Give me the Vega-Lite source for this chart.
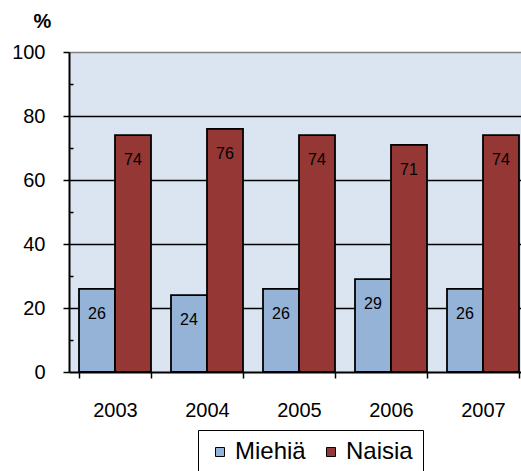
{
  "$schema": "https://vega.github.io/schema/vega-lite/v6.json",
  "autosize": "none",
  "padding": {"left": 69, "top": 52, "right": 0, "bottom": 99},
  "width": 452,
  "height": 320,
  "background": "white",
  "config": {
    "font": "Liberation Sans",
    "view": {"fill": "#dbe5f1", "stroke": null}
  },
  "data": {
    "values": [
      {"vuosi": "2003", "sukupuoli": "Miehiä", "osuus": 26},
      {"vuosi": "2003", "sukupuoli": "Naisia", "osuus": 74},
      {"vuosi": "2004", "sukupuoli": "Miehiä", "osuus": 24},
      {"vuosi": "2004", "sukupuoli": "Naisia", "osuus": 76},
      {"vuosi": "2005", "sukupuoli": "Miehiä", "osuus": 26},
      {"vuosi": "2005", "sukupuoli": "Naisia", "osuus": 74},
      {"vuosi": "2006", "sukupuoli": "Miehiä", "osuus": 29},
      {"vuosi": "2006", "sukupuoli": "Naisia", "osuus": 71},
      {"vuosi": "2007", "sukupuoli": "Miehiä", "osuus": 26},
      {"vuosi": "2007", "sukupuoli": "Naisia", "osuus": 74}
    ]
  },
  "encoding": {
    "x": {
      "field": "vuosi",
      "type": "ordinal",
      "scale": {"range": [0, 460], "paddingInner": 0.2174, "paddingOuter": 0.1087},
      "axis": {
        "title": null,
        "labelAngle": 0,
        "labelFontSize": 20,
        "labelColor": "black",
        "labelPadding": 22,
        "domainColor": "black",
        "domainWidth": 2,
        "tickColor": "black",
        "tickWidth": 1.5,
        "tickSize": 6,
        "tickBand": "extent"
      }
    },
    "xOffset": {
      "field": "sukupuoli",
      "type": "nominal",
      "sort": ["Miehiä", "Naisia"],
      "scale": {"paddingInner": 0, "paddingOuter": 0}
    },
    "y": {
      "field": "osuus",
      "type": "quantitative",
      "scale": {"domain": [0, 100], "nice": false},
      "axis": {
        "values": [0, 10, 20, 30, 40, 50, 60, 70, 80, 90, 100],
        "labelExpr": "datum.value % 20 === 0 ? datum.label : ''",
        "title": "%",
        "titleAngle": 0,
        "titleX": -27,
        "titleY": -25,
        "titleAlign": "center",
        "titleBaseline": "alphabetic",
        "titleFontSize": 20,
        "titleFontWeight": "bold",
        "titleColor": "black",
        "labelFontSize": 20,
        "labelColor": "black",
        "labelPadding": 18,
        "domainColor": "black",
        "domainWidth": 2,
        "tickColor": "black",
        "tickWidth": 1.5,
        "tickSize": {"condition": {"test": "datum.value % 20 === 0", "value": 6}, "value": -4},
        "grid": true,
        "gridWidth": 1.5,
        "gridColor": {"condition": {"test": "datum.value === 100", "value": "#808080"}, "value": "black"},
        "gridOpacity": {"condition": {"test": "datum.value % 20 === 0 && datum.value > 0", "value": 1}, "value": 0}
      }
    }
  },
  "layer": [
    {
      "mark": {"type": "bar", "stroke": "black", "strokeWidth": 1.8},
      "encoding": {
        "color": {
          "field": "sukupuoli",
          "type": "nominal",
          "scale": {"domain": ["Miehiä", "Naisia"], "range": ["#95b3d7", "#953735"]},
          "legend": {
            "title": null,
            "orient": "none",
            "direction": "horizontal",
            "legendX": 129,
            "legendY": 378,
            "padding": 10,
            "strokeColor": "black",
            "fillColor": "white",
            "symbolType": "square",
            "symbolSize": 81,
            "symbolStrokeColor": "black",
            "symbolStrokeWidth": 1,
            "symbolOpacity": 1,
            "labelFontSize": 24,
            "labelColor": "black",
            "labelOffset": 3,
            "labelLimit": 200,
            "columnPadding": 13
          }
        }
      }
    },
    {
      "mark": {"type": "text", "baseline": "middle", "align": "center", "dy": 25, "fontSize": 16, "color": "black"},
      "encoding": {
        "text": {"field": "osuus", "type": "quantitative"}
      }
    }
  ]
}
